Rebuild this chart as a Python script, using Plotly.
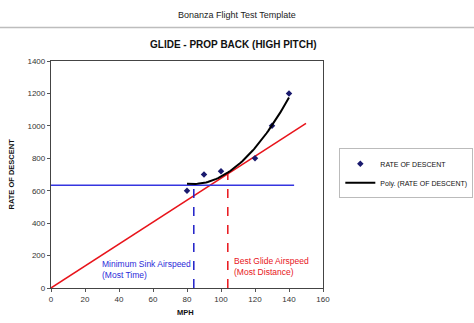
import numpy as np
import plotly.graph_objects as go

# Data
mph = [80, 90, 100, 120, 130, 140]
rate_of_descent = [600, 700, 720, 800, 1000, 1200]

tangent_x = [0, 150]
tangent_y = [0, 1015]
min_sink_level = 633
min_sink_line_x = [0, 143]
min_sink_speed = 84
best_glide_speed = 104
best_glide_rod = 706

x_ticks = [0, 20, 40, 60, 80, 100, 120, 140, 160]
y_ticks = [0, 200, 400, 600, 800, 1000, 1200, 1400]

# polynomial trendline (order 2) fitted to the data
coef = np.polyfit(mph, rate_of_descent, 2)
fx = np.linspace(min(mph), max(mph), 60)
fy = np.polyval(coef, fx)

FONT = "Liberation Sans, Arial, sans-serif"
fig = go.Figure()

fig.add_trace(go.Scatter(x=tangent_x, y=tangent_y, mode="lines",
                         line=dict(color="#e8141b", width=1.5), showlegend=False, hoverinfo="skip"))
fig.add_trace(go.Scatter(x=min_sink_line_x, y=[min_sink_level, min_sink_level], mode="lines",
                         line=dict(color="#3535e0", width=1.5), showlegend=False, hoverinfo="skip"))
fig.add_trace(go.Scatter(x=[min_sink_speed, min_sink_speed], y=[0, min_sink_level], mode="lines",
                         line=dict(color="#1f1fc8", width=1.5, dash="dash"), showlegend=False, hoverinfo="skip"))
fig.add_trace(go.Scatter(x=[best_glide_speed, best_glide_speed], y=[0, best_glide_rod], mode="lines",
                         line=dict(color="#e8141b", width=1.5, dash="dash"), showlegend=False, hoverinfo="skip"))
fig.add_trace(go.Scatter(x=mph, y=rate_of_descent, mode="markers", name="RATE OF DESCENT",
                         marker=dict(symbol="diamond", size=5, color="#1a1a6e")))
fig.add_trace(go.Scatter(x=fx, y=fy, mode="lines", name="Poly. (RATE OF DESCENT)",
                         line=dict(color="black", width=2)))

axis_common = dict(showline=True, linecolor="#444444", linewidth=1.3, mirror=True,
                   showgrid=False, zeroline=False, ticks="outside", ticklen=3,
                   tickcolor="#555555", tickfont=dict(size=8, color="#333333", family=FONT))
fig.update_xaxes(range=[0, 160], tickvals=x_ticks, **axis_common)
fig.update_yaxes(range=[0, 1400], tickvals=y_ticks, **axis_common)

L, R, T, B = 51, 151, 61, 35
fig.update_layout(
    width=474, height=323,
    margin=dict(l=L, r=R, t=T, b=B, autoexpand=False),
    plot_bgcolor="white", paper_bgcolor="white",
    font=dict(family=FONT, color="#222222"),
    legend=dict(x=1.06, y=0.505, xanchor="left", yanchor="middle",
                bordercolor="#bbbbbb", borderwidth=1, bgcolor="white",
                font=dict(size=7, family=FONT, color="#111111"),
                itemwidth=30, tracegroupgap=0),
    shapes=[dict(type="line", xref="paper", yref="paper", x0=-0.2, x1=1.6, y0=1.148, y1=1.148,
                 line=dict(color="#bdbdbd", width=1.5))],
    annotations=[
        dict(text="Bonanza Flight Test Template", xref="paper", yref="paper", x=0.684, y=1.201,
             xanchor="center", yanchor="middle",
             showarrow=False, font=dict(size=9, family=FONT, color="#222222")),
        dict(text="<b>GLIDE - PROP BACK (HIGH PITCH)</b>", xref="paper", yref="paper", x=0.669, y=1.074,
             xanchor="center", yanchor="middle",
             showarrow=False, font=dict(size=10, family=FONT, color="#111111")),
        dict(text="<b>MPH</b>", xref="paper", yref="paper", x=0.496, y=-0.108,
             xanchor="center", yanchor="middle",
             showarrow=False, font=dict(size=7.5, family=FONT, color="#111111")),
        dict(text="<b>RATE OF DESCENT</b>", xref="paper", yref="paper", x=-0.147, y=0.5,
             xanchor="center", yanchor="middle",
             textangle=-90, showarrow=False, font=dict(size=7.5, family=FONT, color="#111111")),
        dict(text="Minimum Sink Airspeed<br>(Most Time)", x=29, y=115, xanchor="left", yanchor="middle",
             align="left", showarrow=False, font=dict(size=8.5, family=FONT, color="#2b2bd9")),
        dict(text="Best Glide Airspeed<br>(Most Distance)", x=106.3, y=132, xanchor="left", yanchor="middle",
             align="left", showarrow=False, font=dict(size=8.5, family=FONT, color="#e8141b")),
    ],
)

fig.write_html("out.html")
